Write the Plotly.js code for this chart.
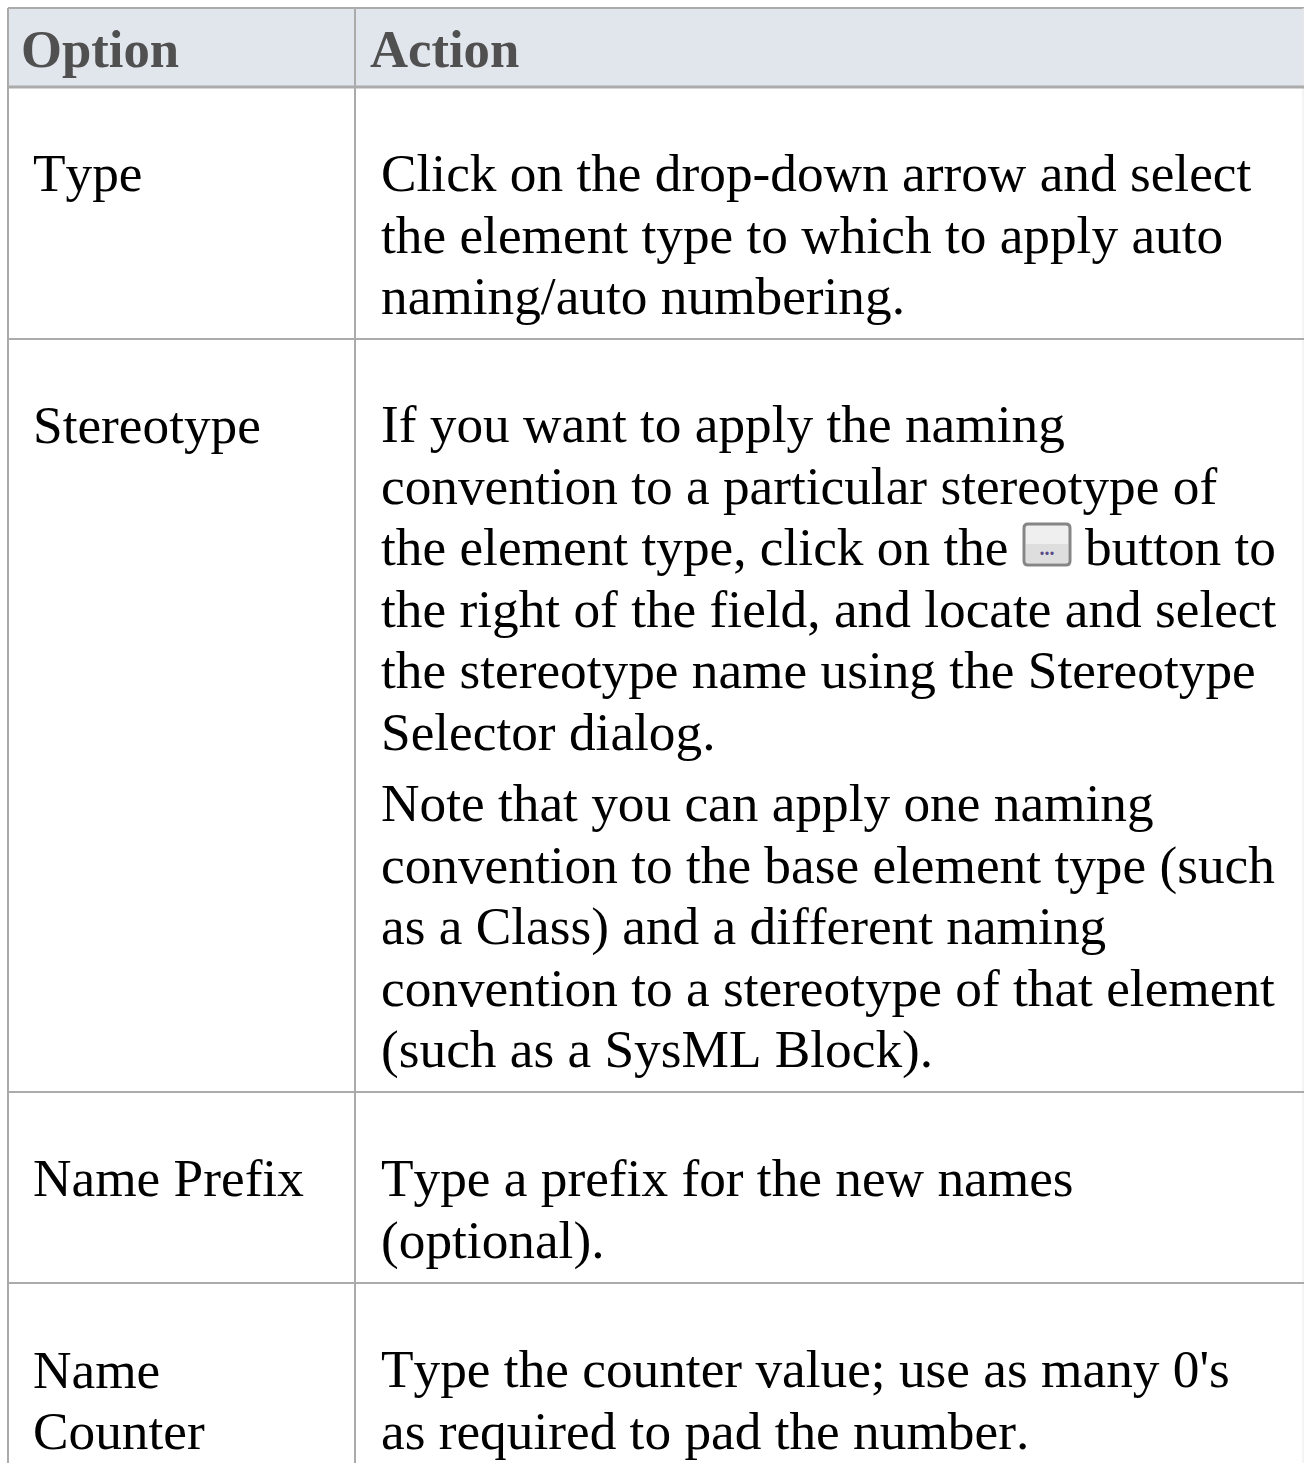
<!DOCTYPE html>
<html><head><meta charset="utf-8">
<script src="https://cdn.plot.ly/plotly-3.0.1.min.js"></script>
<style>html,body{margin:0;padding:0;background:#fff} svg text{font-kerning:none}</style></head>
<body><div id="chart" style="width:1304px;height:1463px"></div>
<script>
const headerLabels = ["Option", "Action"];
const headerX = [21, 370];
const headerY = [53.5, 53.5];
const optionLabels = ["Type", "Stereotype", "Name Prefix", "Name", "Counter"];
const optionY = [178, 429.5, 1183, 1374.5, 1435.5];
const actionLines = [
 "Click on the drop-down arrow and select",
 "the element type to which to apply auto",
 "naming/auto numbering.",
 "If you want to apply the naming",
 "convention to a particular stereotype of",
 "the element type, click on the",
 "the right of the field, and locate and select",
 "the stereotype name using the Stereotype",
 "Selector dialog.",
 "Note that you can apply one naming",
 "convention to the base element type (such",
 "as a Class) and a different naming",
 "convention to a stereotype of that element",
 "(such as a SysML Block).",
 "Type a prefix for the new names",
 "(optional).",
 "Type the counter value; use as many 0's",
 "as required to pad the number."
];
const actionY = [178,239.5,301,429,491,552,613.5,675,736.5,808,869.5,931,992.5,1053.5,1183,1244.5,1374,1435.5];
const trailing = ["button to"];
const rowLines = [87, 339, 1092, 1283];
const C = {line:"#ababab", head:"#e1e5ec", headText:"#505050", text:"#000"};
const F = "Liberation Serif";
const S = 53.3;
const shapes = [
 {type:"rect",x0:8,x1:1304,y0:8,y1:87,fillcolor:C.head,line:{width:0},layer:"below"},
 {type:"line",x0:8,x1:1304,y0:8,y1:8,line:{color:C.line,width:2}},
 {type:"line",x0:8,x1:8,y0:8,y1:1463,line:{color:C.line,width:2}},
 {type:"line",x0:355,x1:355,y0:8,y1:1463,line:{color:C.line,width:2}},
 {type:"line",x0:1303,x1:1303,y0:8,y1:1463,line:{color:"#e8e8e8",width:1}},
 ...rowLines.map((y,i)=>({type:"line",x0:8,x1:1304,y0:y,y1:y,line:{color:C.line,width:i===0?3:2}})),
 {type:"path",path:"M 1028 524 L 1066 524 Q 1070 524 1070 528 L 1070 561 Q 1070 565 1066 565 L 1028 565 Q 1024 565 1024 561 L 1024 528 Q 1024 524 1028 524 Z",fillcolor:"#efefef",line:{color:"#858585",width:3},layer:"below"},
 {type:"rect",x0:1026,x1:1068,y0:544,y1:563,fillcolor:"#dedede",line:{width:0},layer:"below"}
];
const traces = [
 {x:headerX,y:headerY,text:headerLabels,mode:"text",textposition:"middle right",
  textfont:{family:F,size:52.7,color:C.headText,weight:700},hoverinfo:"skip"},
 {x:optionLabels.map(()=>33),y:optionY,text:optionLabels,mode:"text",textposition:"middle right",
  textfont:{family:F,size:S,color:C.text},hoverinfo:"skip"},
 {x:actionLines.map(()=>381),y:actionY,text:actionLines,mode:"text",textposition:"middle right",
  textfont:{family:F,size:S,color:C.text},hoverinfo:"skip"},
 {x:[1085],y:[552],text:trailing,mode:"text",textposition:"middle right",
  textfont:{family:F,size:S,color:C.text},hoverinfo:"skip"},
 {x:[1047],y:[550],text:["..."],mode:"text",textposition:"middle center",
  textfont:{family:F,size:20,color:"#5a4a8a",weight:700},hoverinfo:"skip"}
];
Plotly.newPlot("chart",traces,{
 width:1304,height:1463,margin:{l:0,r:0,t:0,b:0},showlegend:false,
 paper_bgcolor:"#fff",plot_bgcolor:"#fff",
 xaxis:{range:[0,1304],visible:false,fixedrange:true},
 yaxis:{range:[1463,0],visible:false,fixedrange:true},
 shapes
},{displayModeBar:false,staticPlot:true});
</script></body></html>
